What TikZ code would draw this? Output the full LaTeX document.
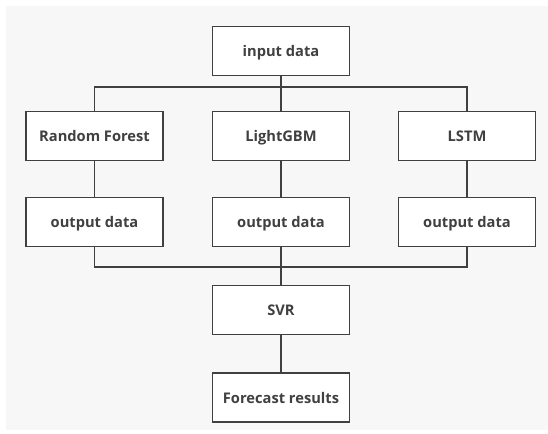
\documentclass[tikz,border=0pt]{standalone}
\usepackage{fontspec}
\setmainfont{Open Sans}
\usepackage{tikz}
\definecolor{ink}{RGB}{64,64,64}
\definecolor{paper}{RGB}{247,247,247}
\tikzset{
  % ---- boxes ------------------------------------------------------------
  box/.style={
    draw=ink, line width=1.1pt, fill=white, text=ink,
    font=\bfseries\fontsize{11}{13}\selectfont, align=center,
    text height=1.9ex, text depth=.3ex,
    minimum width=102.75pt, minimum height=36.5pt, inner sep=2pt},
  % ---- connectors -------------------------------------------------------
  link/.style={draw=ink, line width=1.1pt},
}

\begin{document}
\begin{tikzpicture}[x=0.75pt,y=0.75pt]

\def\XA{94.5}\def\XB{281}\def\XC{467}
\def\YI{383}\def\YM{298}\def\YO{212}\def\YS{124}\def\YF{36.5}

% ---- canvas ---------------------------------------------------------------
\useasboundingbox (0,0) rectangle (548,434);
\fill[paper] (6,4) rectangle (548,428);

% ---- boxes ----------------------------------------------------------------
\node[box] (input) at (\XB,\YI) {input data};

\node[box] (rf)   at (\XA,\YM) {Random Forest};
\node[box] (lgbm) at (\XB,\YM) {LightGBM};
\node[box] (lstm) at (\XC,\YM) {LSTM};

\node[box] (outrf)   at (\XA,\YO) {output data};
\node[box] (outlgbm) at (\XB,\YO) {output data};
\node[box] (outlstm) at (\XC,\YO) {output data};

\node[box] (svr)  at (\XB,\YS) {SVR};
\node[box] (fcst) at (\XB,\YF) {Forecast results};

% ---- junctions ------------------------------------------------------------
\coordinate (split) at (\XB,347);
\coordinate (merge) at (\XB,167);

% ---- connectors -----------------------------------------------------------
\draw[link] (input) -- (split);
\draw[link] (rf.north) |- (split) -| (lstm.north);
\draw[link] (split) -- (lgbm);

\draw[link] (rf) -- (outrf);
\draw[link] (lgbm) -- (outlgbm);
\draw[link] (lstm) -- (outlstm);

\draw[link] (outrf.south) |- (merge) -| (outlstm.south);
\draw[link] (outlgbm) -- (merge);
\draw[link] (merge) -- (svr);

\draw[link] (svr) -- (fcst);

\end{tikzpicture}
\end{document}
